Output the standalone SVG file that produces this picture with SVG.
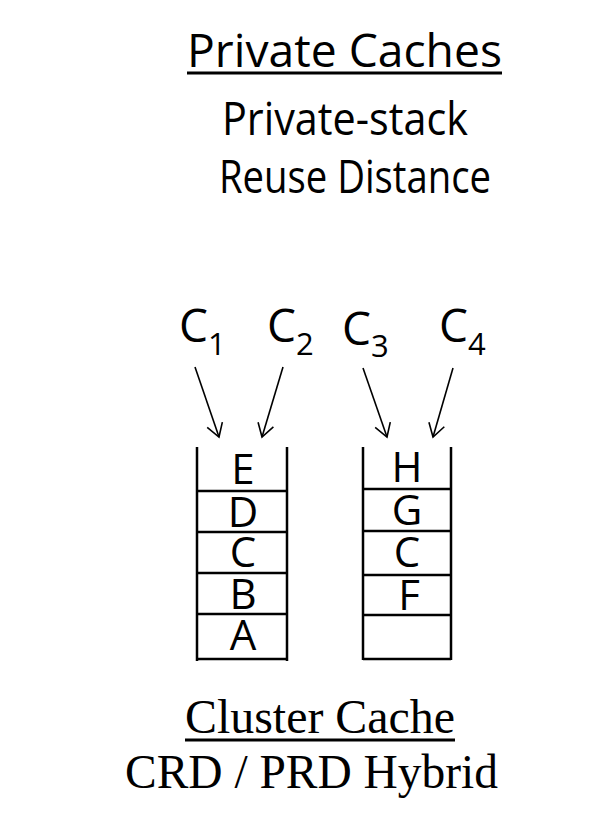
<svg xmlns="http://www.w3.org/2000/svg" width="601" height="813" viewBox="0 0 601 813">
<defs>
<style>
.sans{font-family:"Open Sans","Liberation Sans",sans-serif;fill:#000}
.serif{font-family:"Liberation Serif","Times New Roman",serif;fill:#000}
.cell{font-size:42px;text-anchor:middle}
.stk{stroke:#000;stroke-width:2.5;fill:none}
.arr{stroke:#000;stroke-width:1.6;fill:none;marker-end:url(#vh)}
.ul{stroke:#000;stroke-width:3}
</style>
<marker id="vh" markerUnits="userSpaceOnUse" markerWidth="24" markerHeight="24" refX="16" refY="10" orient="auto" viewBox="0 0 24 20">
<path d="M3,2 L16,10 L3,18" fill="none" stroke="#000" stroke-width="1.6"/>
</marker>
</defs>
<rect width="601" height="813" fill="#fff"/>

<g id="title">
<text class="sans" x="344.5" y="67" font-size="46" text-anchor="middle" textLength="315" lengthAdjust="spacingAndGlyphs">Private Caches</text>
<line class="ul" x1="187" y1="73" x2="502" y2="73"/>
<text class="sans" x="345" y="135" font-size="46" text-anchor="middle" textLength="246" lengthAdjust="spacingAndGlyphs">Private-stack</text>
<text class="sans" x="355" y="193" font-size="46" text-anchor="middle" textLength="272" lengthAdjust="spacingAndGlyphs">Reuse Distance</text>
</g>

<g id="c1"><text class="sans" x="179" y="342" font-size="46">C<tspan font-size="31" dy="13">1</tspan></text></g>
<g id="c2"><text class="sans" x="267" y="342" font-size="46">C<tspan font-size="31" dy="13">2</tspan></text></g>
<g id="c3"><text class="sans" x="342" y="345" font-size="46">C<tspan font-size="31" dy="12">3</tspan></text></g>
<g id="c4"><text class="sans" x="439" y="342" font-size="46">C<tspan font-size="31" dy="13">4</tspan></text></g>

<g id="connectors">
<line class="arr" x1="195" y1="367" x2="219" y2="437"/>
<line class="arr" x1="283" y1="367" x2="262" y2="437"/>
<line class="arr" x1="363" y1="368" x2="387" y2="437"/>
<line class="arr" x1="453" y1="368" x2="433" y2="437"/>
</g>

<g id="stack-left">
<path class="stk" d="M197,447 V661 M287,447 V661 M197,491 H287 M197,532 H287 M197,573 H287 M197,614 H287 M197,659 H287"/>
<text class="sans cell" x="243" y="484">E</text>
<text class="sans cell" x="243" y="527">D</text>
<text class="sans cell" x="243" y="567">C</text>
<text class="sans cell" x="243" y="609">B</text>
<text class="sans cell" x="243" y="650">A</text>
</g>

<g id="stack-right">
<path class="stk" d="M363,447 V660 M451,447 V660 M363,489 H451 M363,531 H451 M363,575 H451 M363,615 H451 M363,659 H451"/>
<text class="sans cell" x="407" y="482">H</text>
<text class="sans cell" x="407" y="525">G</text>
<text class="sans cell" x="407" y="567">C</text>
<text class="sans cell" x="409" y="610">F</text>
</g>

<g id="footer">
<text class="serif" x="320" y="733" font-size="48" text-anchor="middle" textLength="270" lengthAdjust="spacingAndGlyphs">Cluster Cache</text>
<line class="ul" x1="185" y1="740" x2="455" y2="740"/>
<text class="serif" x="311.5" y="788" font-size="48" text-anchor="middle" textLength="373" lengthAdjust="spacingAndGlyphs">CRD / PRD Hybrid</text>
</g>
</svg>
